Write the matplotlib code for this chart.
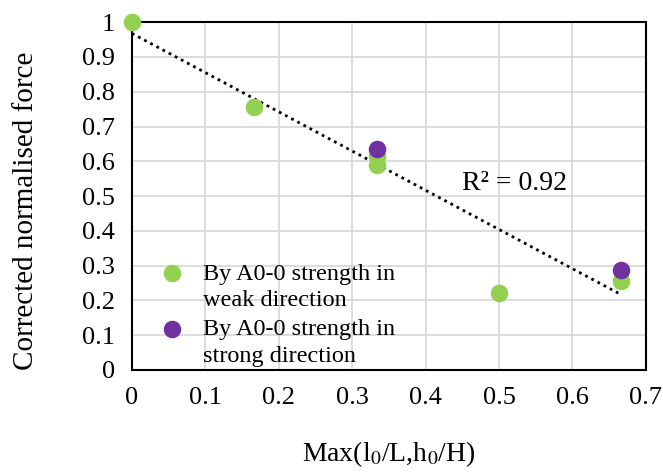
import numpy as np
import matplotlib
matplotlib.use("Agg")
import matplotlib.pyplot as plt

plt.rcParams["font.family"] = ["Liberation Serif", "DejaVu Serif"]
plt.rcParams["mathtext.fontset"] = "stix"

# weak direction (green), strong direction (purple)
x_weak = [0, 1/6, 1/3, 1/3, 0.5, 2/3]
y_weak = [1.0, 0.755, 0.59, 0.615, 0.222, 0.255]
x_strong = [1/3, 2/3]
y_strong = [0.635, 0.288]

labels = ["By A0-0 strength in\nweak direction",
          "By A0-0 strength in\nstrong direction"]
colors = ["#92D050", "#7030A0"]

fig = plt.figure(figsize=(6.63, 4.73), dpi=100)
ax = fig.add_axes([0.199, 0.218, 0.775, 0.735])

ax.scatter(x_weak, y_weak, s=135, color=colors[0], zorder=3, clip_on=False)
ax.scatter(x_strong, y_strong, s=135, color=colors[1], zorder=4, clip_on=False)

# linear trendline over all points
x_all = np.array(x_weak + x_strong)
y_all = np.array(y_weak + y_strong)
k, b = np.polyfit(x_all, y_all, 1)
xt = np.array([0, max(x_all)])
ax.plot(xt, k * xt + b, color="black", linestyle=(0, (1, 1.5)), lw=2.0, zorder=2)
r2 = np.corrcoef(x_all, y_all)[0, 1] ** 2
ax.text(0.449, 0.535, "R² = %.2f" % r2, fontsize=20, va="center", ha="left")

ax.set_xlim(0, 0.7)
ax.set_ylim(0, 1)
ax.set_xticks(np.arange(0, 0.71, 0.1))
ax.set_yticks(np.arange(0, 1.01, 0.1))
ax.set_xticklabels(["0", "0.1", "0.2", "0.3", "0.4", "0.5", "0.6", "0.7"])
ax.set_yticklabels(["0", "0.1", "0.2", "0.3", "0.4", "0.5", "0.6", "0.7", "0.8", "0.9", "1"])
ax.tick_params(length=0, labelsize=19, pad=12)
ax.grid(True, color="#D9D9D9", lw=1.3)
ax.set_axisbelow(True)
for s in ax.spines.values():
    s.set_linewidth(1.5)

ax.set_xlabel("Max(l$_0$/L,h$_0$/H)", fontsize=20, labelpad=22)
ax.set_ylabel("Corrected normalised force", fontsize=21)
ax.yaxis.set_label_coords(-0.18, 0.457)

# legend drawn by hand so the marker sits on the first text line
for i, (lab, c) in enumerate(zip(labels, colors)):
    y0 = 0.279 - i * 0.161
    ax.scatter([0.078], [y0], s=135, color=c, transform=ax.transAxes, zorder=5)
    ax.text(0.138, y0 + 0.027, lab, transform=ax.transAxes, fontsize=17.5,
            va="top", ha="left", linespacing=1.35)

fig.savefig("out.png", dpi=100)
